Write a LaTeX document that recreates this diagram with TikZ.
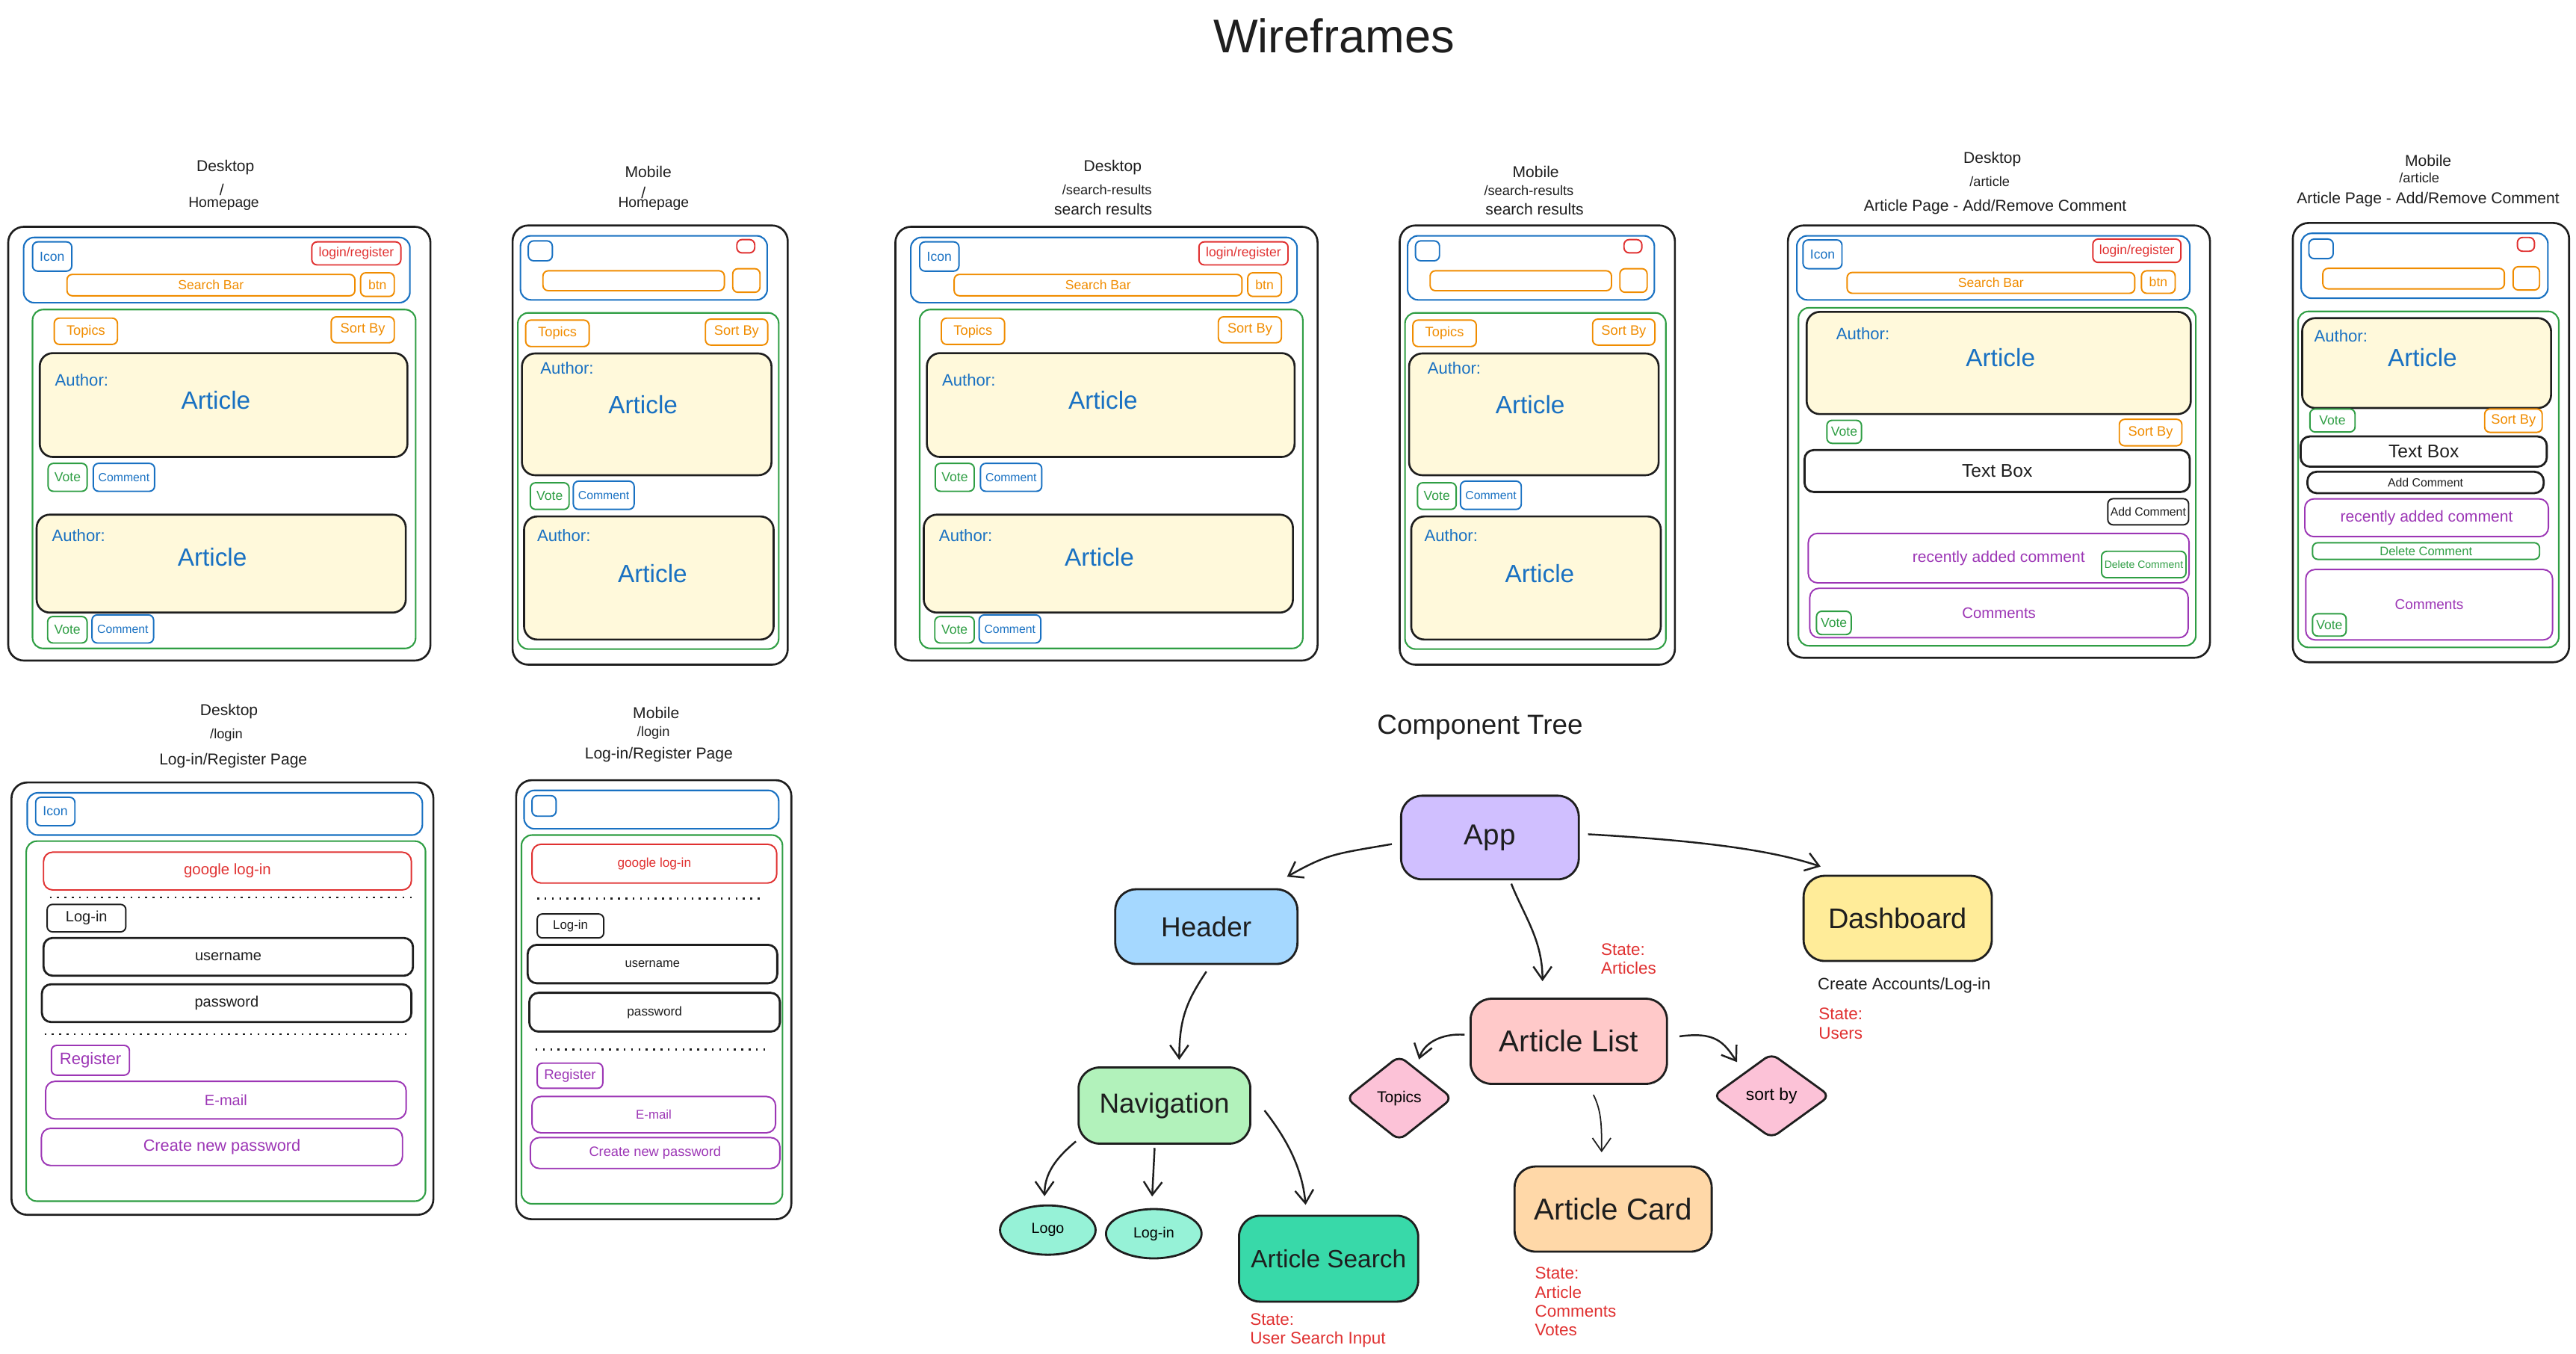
\documentclass[tikz,border=0pt]{standalone}
\usepackage{fontspec}
\setmainfont{Liberation Sans}
\usetikzlibrary{shapes.geometric,arrows.meta}

\definecolor{ink}{HTML}{1E1E1E}
\definecolor{wblue}{HTML}{1971C2}
\definecolor{wred}{HTML}{E03131}
\definecolor{worange}{HTML}{F08C00}
\definecolor{wgreen}{HTML}{2F9E44}
\definecolor{wpurple}{HTML}{9C36B5}
\definecolor{cream}{HTML}{FFF9DB}
\definecolor{appfill}{HTML}{D0BFFF}
\definecolor{hdrfill}{HTML}{A5D8FF}
\definecolor{navfill}{HTML}{B2F2BB}
\definecolor{leaffill}{HTML}{96F2D7}
\definecolor{searchfill}{HTML}{38D9A9}
\definecolor{listfill}{HTML}{FFC9C9}
\definecolor{diafill}{HTML}{FCC2D7}
\definecolor{cardfill}{HTML}{FFD8A8}
\definecolor{dashfill}{HTML}{FFEC99}

% box with a centred label: name, style, x1, y1, x2, y2, text
\newcommand{\wbox}[7]{%
\draw[#2] (#3,#4) rectangle (#5,#6);
\node[#2,draw=none,fill=none,inner sep=0pt] (#1) at ({(#3+#5)/2},{(#4+#6)/2}) {#7};}

\begin{document}
\begin{tikzpicture}[x=0.022cm,y=-0.022cm,fs/.style={font=\fontsize{#1}{#1}\selectfont},frame/.style={draw=ink,line width=0.75pt,rounded corners=6pt},bluepanel/.style={draw=wblue,line width=0.6pt,rounded corners=4pt},greenpanel/.style={draw=wgreen,line width=0.6pt,rounded corners=4pt},bx/.style={line width=0.55pt,rounded corners=2pt},bluebox/.style={bx,draw=wblue,text=wblue},redbox/.style={bx,draw=wred,text=wred},orangebox/.style={bx,draw=worange,text=worange},greenbox/.style={bx,draw=wgreen,text=wgreen},purplebox/.style={bx,draw=wpurple,text=wpurple},blackbox/.style={bx,draw=ink,text=ink},fieldbox/.style={draw=ink,text=ink,line width=0.8pt,rounded corners=3.5pt},cardbox/.style={draw=ink,fill=cream,line width=0.75pt,rounded corners=5pt},authorlab/.style={text=wblue,fs=6.3,anchor=west,inner sep=0pt},artlab/.style={text=wblue,fs=9.5,inner sep=0pt},head/.style={text=ink,fs=6,inner sep=0pt},route/.style={head,fs=5.2},dotline/.style={draw=ink,line width=0.7pt,dash pattern=on 0.7pt off 2.1pt},tnode/.style={draw=ink,line width=0.8pt,rounded corners=8pt,inner sep=0pt,text=ink},leaf/.style={shape=ellipse,draw=ink,line width=0.8pt,fill=leaffill,inner sep=0pt,minimum width=1.28cm,minimum height=0.66cm,fs=5.6},dia/.style={shape=diamond,draw=ink,line width=0.8pt,fill=diafill,inner sep=0pt,rounded corners=3pt},state/.style={text=wred,align=left,inner sep=0pt,anchor=north west,font=\fontsize{6.4}{7.2}\selectfont},arr/.style={draw=ink,line width=0.7pt,-{Straight Barb[length=5pt,width=7pt]}}]
\def\pgshift{540};

\useasboundingbox (0,0) rectangle (1568,824);

\node[text=ink,fs=18,inner sep=0pt] (wtitle) at (812,22) {Wireframes};

% page titles
\node[head] (dh-t1) at (137.2,101.7) {Desktop};
\node[head] (dh-t2) at (135,115.3) {/};
\node[head,fs=5.5] (dh-t3) at (136.2,124.1) {Homepage};
\node[head] (mh-t1) at (394.6,104.4) {Mobile};
\node[head] (mh-t2) at (391.7,117.4) {/};
\node[head,fs=5.5] (mh-t3) at (397.8,124.1) {Homepage};
\node[head] (ds-t1) at (677.3,101.7) {Desktop};
\node[route] (ds-t2) at (673.8,115.7) {/search-results};
\node[head] (ds-t3) at (671.5,127.4) {search results};
\node[head] (ms-t1) at (934.8,104.4) {Mobile};
\node[route] (ms-t2) at (930.6,115.9) {/search-results};
\node[head] (ms-t3) at (934.1,127.4) {search results};
\node[head] (da-t1) at (1212.7,97.1) {Desktop};
\node[route] (da-t2) at (1211.1,110.5) {/article};
\node[head] (da-t3) at (1214.5,126.1) {Article Page - Add/Remove Comment};
\node[head] (ma-t1) at (1478,97.9) {Mobile};
\node[route] (ma-t2) at (1472.6,108) {/article};
\node[head] (ma-t3) at (1478,121.5) {Article Page - Add/Remove Comment};
\node[head] (dl-t1) at (139.4,433) {Desktop};
\node[route] (dl-t2) at (137.8,447.2) {/login};
\node[head] (dl-t3) at (142,462.9) {Log-in/Register Page};
\node[head] (ml-t1) at (399.4,433.6) {Mobile};
\node[route] (ml-t2) at (397.8,446) {/login};
\node[head] (ml-t3) at (401,459.1) {Log-in/Register Page};

% homepage and search results share one layout
\foreach \dx/\pg in {0/h,\pgshift/s}{
\begin{scope}[shift={(\dx,0)}]
% desktop
\draw[frame] (5,138) rectangle (262,402);
\draw[bluepanel] (14.4,144.5) rectangle (249.5,184.2);
\wbox{d\pg-icon}{bluebox,fs=5}{19.8}{147.2}{43.7}{165}{Icon}
\wbox{d\pg-login}{redbox,fs=5}{189.8}{147.2}{244}{161.2}{login/register}
\wbox{d\pg-bar}{orangebox,fs=5}{40.8}{167}{216}{180}{Search Bar}
\wbox{d\pg-btn}{orangebox,fs=5}{219.5}{166}{240}{180.4}{btn}
\draw[greenpanel] (19.8,188.4) rectangle (253,394.6);
\wbox{d\pg-topics}{orangebox,fs=5.2}{33}{193.6}{71.5}{209.6}{Topics}
\wbox{d\pg-sort}{orangebox,fs=5.2}{201.6}{192.8}{240}{208.6}{Sort By}
\draw[cardbox] (24.2,214.9) rectangle (248,278.1);
\node[authorlab] (d\pg-au1) at (33.2,231.2) {Author:};
\node[artlab] (d\pg-ar1) at (131.4,243.7) {Article};
\wbox{d\pg-vote1}{greenbox,fs=5}{29.3}{282}{53}{299}{Vote}
\wbox{d\pg-com1}{bluebox,fs=4.5}{56.8}{282}{94.1}{299}{Comment}
\draw[cardbox] (22.3,313.2) rectangle (247,372.8);
\node[authorlab] (d\pg-au2) at (31.3,325.7) {Author:};
\node[artlab] (d\pg-ar2) at (129.2,339.1) {Article};
\wbox{d\pg-vote2}{greenbox,fs=5}{29}{375.2}{53}{391.3}{Vote}
\wbox{d\pg-com2}{bluebox,fs=4.5}{56}{374.2}{93.5}{391.3}{Comment}
% mobile
\draw[frame] (312,137.2) rectangle (479.5,404.5);
\draw[bluepanel] (316.8,143.5) rectangle (467,182.5);
\draw[bluebox] (321.6,146.6) rectangle (336.2,158.7);
\draw[redbox] (448.5,145.8) rectangle (459.4,153.9);
\draw[orangebox] (330.5,164.8) rectangle (440.9,176.9);
\draw[orangebox] (446,163.5) rectangle (462.6,177.9);
\draw[greenpanel] (315.2,190.4) rectangle (474,395);
\wbox{m\pg-topics}{orangebox,fs=5.2}{320}{194.8}{358.6}{210.9}{Topics}
\wbox{m\pg-sort}{orangebox,fs=5.2}{429.4}{194.2}{467.3}{210}{Sort By}
\draw[cardbox] (317.7,215.1) rectangle (469.6,289.2);
\node[authorlab] (m\pg-au1) at (328.6,223.9) {Author:};
\node[artlab] (m\pg-ar1) at (391.4,246.2) {Article};
\wbox{m\pg-vote}{greenbox,fs=5}{322.8}{293.8}{346.4}{310}{Vote}
\wbox{m\pg-com}{bluebox,fs=4.5}{349}{292.8}{386}{310}{Comment}
\draw[cardbox] (319,314.3) rectangle (470.9,389.2);
\node[authorlab] (m\pg-au2) at (326.7,325.7) {Author:};
\node[artlab] (m\pg-ar2) at (397.2,349.1) {Article};
\end{scope}
}

% desktop article page
\draw[frame] (1088.3,137.2) rectangle (1345.2,400.3);
\draw[bluepanel] (1093.7,143.5) rectangle (1332.9,182.5);
\wbox{da-icon}{bluebox,fs=5}{1097.5}{146}{1121.2}{163.5}{Icon}
\wbox{da-login}{redbox,fs=5}{1273.9}{145.5}{1327.5}{159.7}{login/register}
\wbox{da-bar}{orangebox,fs=5}{1124.3}{165.8}{1299.4}{178.5}{Search Bar}
\wbox{da-btn}{orangebox,fs=5}{1303.5}{164.8}{1324}{178.5}{btn}
\draw[greenpanel] (1094.7,187.3) rectangle (1336.6,393);
\draw[cardbox] (1099.7,189.8) rectangle (1333.5,252);
\node[authorlab] (da-au) at (1117.4,203) {Author:};
\node[artlab] (da-ar) at (1217.7,217.6) {Article};
\wbox{da-vote}{greenbox,fs=5}{1112}{255.8}{1133.1}{269.8}{Vote}
\wbox{da-sort}{orangebox,fs=5.2}{1290}{255.2}{1328.1}{271.3}{Sort By}
\wbox{da-text}{fieldbox,fs=7}{1098.4}{273.9}{1332.9}{299.4}{Text Box}
\wbox{da-add}{blackbox,fs=4.5}{1283}{303.5}{1332.2}{319.4}{Add Comment}
\wbox{da-recent}{purplebox,rounded corners=3.5pt,fs=6}{1100.7}{324.6}{1332.5}{354.7}{recently added comment}
\wbox{da-del}{greenbox,fs=4}{1279.2}{335.5}{1330.6}{351.6}{Delete Comment}
\wbox{da-comments}{purplebox,rounded corners=3.5pt,fs=5.8}{1101.6}{358}{1331.9}{388.1}{Comments}
\wbox{da-vote2}{greenbox,fs=5}{1105.7}{372}{1126.8}{386.2}{Vote}

% mobile article page
\draw[frame] (1395.6,135.7) rectangle (1563.8,403);
\draw[bluepanel] (1400.7,142) rectangle (1550.9,181.5);
\draw[bluebox] (1405.4,145.5) rectangle (1420.2,157.4);
\draw[redbox] (1532.3,144.5) rectangle (1542.7,152.9);
\draw[orangebox] (1413.9,163.3) rectangle (1524.4,175.8);
\draw[orangebox] (1529.7,162.3) rectangle (1545.8,176.5);
\draw[greenpanel] (1398.8,189.5) rectangle (1557.5,394);
\draw[cardbox] (1401.3,193.6) rectangle (1552.8,248.3);
\node[authorlab] (ma-au) at (1408.3,204.6) {Author:};
\node[artlab] (ma-ar) at (1474.5,217.6) {Article};
\wbox{ma-vote}{greenbox,fs=5}{1406}{248.9}{1433.5}{262.9}{Vote}
\wbox{ma-sort}{orangebox,fs=5.2}{1512.4}{248.9}{1547.4}{263.1}{Sort By}
\wbox{ma-text}{fieldbox,fs=7}{1400.4}{265.6}{1550.2}{284}{Text Box}
\wbox{ma-add}{fieldbox,fs=4.5}{1404.5}{287.1}{1548.3}{300.1}{Add Comment}
\wbox{ma-recent}{purplebox,rounded corners=3.5pt,fs=6}{1402.9}{303.6}{1551.2}{326.6}{recently added comment}
\wbox{ma-del}{greenbox,fs=4.7}{1407.6}{330.3}{1545.8}{340.4}{Delete Comment}
\wbox{ma-comments}{purplebox,rounded corners=3.5pt,fs=5.4}{1403.5}{346.6}{1553.7}{389.4}{Comments}
\wbox{ma-vote2}{greenbox,fs=5}{1407.6}{373.5}{1428.1}{387.1}{Vote}

% desktop log-in page
\draw[frame] (7,476.2) rectangle (263.8,739.3);
\draw[bluepanel] (16.6,482.5) rectangle (257.1,508.2);
\wbox{dl-icon}{bluebox,fs=5}{21.7}{485.2}{45.6}{502.5}{Icon}
\draw[greenpanel] (16,511.9) rectangle (259,731);
\wbox{dl-google}{redbox,rounded corners=3.5pt,fs=5.8}{26.5}{518.6}{250.4}{541.6}{google log-in}
\draw[dotline] (30.3,546.2) -- (252,546.2);
\wbox{dl-login}{blackbox,fs=5.7}{28.7}{550.4}{76.6}{567.1}{Log-in}
\wbox{dl-user}{fieldbox,fs=5.7}{26.5}{570.8}{251.4}{593.8}{username}
\wbox{dl-pass}{fieldbox,fs=5.7}{25.5}{599}{250.4}{622}{password}
\draw[dotline] (27.1,629.3) -- (248.8,629.3);
\wbox{dl-reg}{purplebox,fs=6.3}{31.3}{636.2}{78.8}{654.3}{Register}
\wbox{dl-mail}{purplebox,rounded corners=3.5pt,fs=5.7}{27.8}{658.1}{247.2}{680.9}{E-mail}
\wbox{dl-pw}{purplebox,rounded corners=3.5pt,fs=6.2}{25.2}{686.7}{245}{709.3}{Create new password}

% mobile log-in page
\draw[frame] (314.2,474.8) rectangle (481.7,742);
\draw[bluepanel] (319,481) rectangle (474,504.4);
\draw[bluebox] (323.8,484.2) rectangle (338.5,496.7);
\draw[greenpanel] (317.4,508.2) rectangle (476.3,732.6);
\wbox{ml-google}{redbox,rounded corners=3.5pt,fs=4.9}{323.8}{513.8}{472.8}{537.4}{google log-in}
\draw[dotline] (327,546.8) -- (464.1,546.8);
\wbox{ml-login}{blackbox,fs=4.8}{327}{556.2}{367.5}{570.8}{Log-in}
\wbox{ml-user}{fieldbox,fs=4.7}{321.2}{575}{473.1}{598.4}{username}
\wbox{ml-pass}{fieldbox,fs=4.9}{322.2}{604.2}{474.7}{627.8}{password}
\draw[dotline] (326,638.7) -- (467.3,638.7);
\wbox{ml-reg}{purplebox,fs=5.3}{327}{647}{366.9}{662.3}{Register}
\wbox{ml-mail}{purplebox,rounded corners=3.5pt,fs=4.8}{323.8}{667.3}{472.1}{689.4}{E-mail}
\wbox{ml-pw}{purplebox,rounded corners=3.5pt,fs=5.2}{322.8}{692.3}{474.7}{711.1}{Create new password}

% component tree
\node[text=ink,fs=10.5,inner sep=0pt] (ctitle) at (900.9,442.8) {Component Tree};

\node[tnode,fill=appfill,minimum width=2.38cm,minimum height=1.12cm,fs=11] (app) at (906.9,509.7) {App};
\node[tnode,fill=hdrfill,minimum width=2.44cm,minimum height=1.0cm,fs=10.5] (header) at (734.3,563.9) {Header};
\node[tnode,fill=navfill,minimum width=2.30cm,minimum height=1.02cm,fs=10.5] (nav) at (708.8,672.8) {Navigation};
\node[leaf] (logo) at (637.8,748.6) {Logo};
\node[leaf] (login) at (702.3,750.8) {Log-in};
\node[tnode,fill=searchfill,minimum width=2.40cm,minimum height=1.15cm,fs=9.5] (search) at (808.7,766) {Article Search};
\node[tnode,fill=listfill,minimum width=2.63cm,minimum height=1.14cm,fs=11.5] (list) at (954.9,633.7) {Article List};
\node[dia,minimum width=1.43cm,minimum height=1.14cm,fs=6] (topics) at (851.7,668.3) {Topics};
\node[dia,minimum width=1.57cm,minimum height=1.14cm,fs=6.5] (sortby) at (1078.3,666.9) {sort by};
\node[tnode,fill=cardfill,minimum width=2.64cm,minimum height=1.14cm,fs=11.5] (card) at (981.9,735.8) {Article Card};
\node[tnode,fill=dashfill,minimum width=2.52cm,minimum height=1.14cm,fs=10.8] (dash) at (1155.1,558.9) {Dashboard};

\node[state] (st-list) at (974.3,574) {State:\\Articles};
\node[text=ink,fs=6.3,anchor=west,inner sep=0pt] (dash-note) at (1106.2,599.9) {Create Accounts/Log-in};
\node[state] (st-dash) at (1106.7,613.2) {State:\\Users};
\node[state] (st-search) at (760.7,799) {State:\\User Search Input};
\node[state] (st-card) at (934,771) {State:\\Article\\Comments\\Votes};

\draw[arr] ([shift={(-5,4)}]app.west) .. controls +(-35,6) and +(25,-14) .. ([shift={(-7,-7)}]header.north east);
\draw[arr] ([shift={(5,-2)}]app.east) .. controls +(70,4) and +(-30,-10) .. ([shift={(11,-5)}]dash.north west);
\draw[arr] ([shift={(13,2)}]app.south) .. controls +(8,20) and +(0,-25) .. ([shift={(-16,-10)}]list.north);
\draw[arr] ([shift={(0,4)}]header.south) .. controls +(-12,18) and +(0,-25) .. ([shift={(9,-4)}]nav.north);
\draw[arr] ([shift={(-1,-2)}]nav.south west) .. controls +(-12,10) and +(0,-14) .. ([shift={(-2,-5)}]logo.north);
\draw[arr] ([shift={(-6,2)}]nav.south) -- ([shift={(-1,-7)}]login.north);
\draw[arr] ([shift={(8,3)}]nav.east) .. controls +(14,18) and +(-2,-22) .. ([shift={(-14,-6)}]search.north);
\draw[arr] ([shift={(-3,-4)}]list.west) .. controls +(-14,-1) and +(3,-10) .. ([shift={(12,3)}]topics.north);
\draw[arr] ([shift={(7,-3)}]list.east) .. controls +(22,-3) and +(-8,-12) .. ([shift={(-21,6)}]sortby.north);
\draw[arr,line width=0.5pt] ([shift={(15,6)}]list.south) .. controls +(5,10) and +(0,-16) .. ([shift={(-7,-8)}]card.north);
\end{tikzpicture}
\end{document}
